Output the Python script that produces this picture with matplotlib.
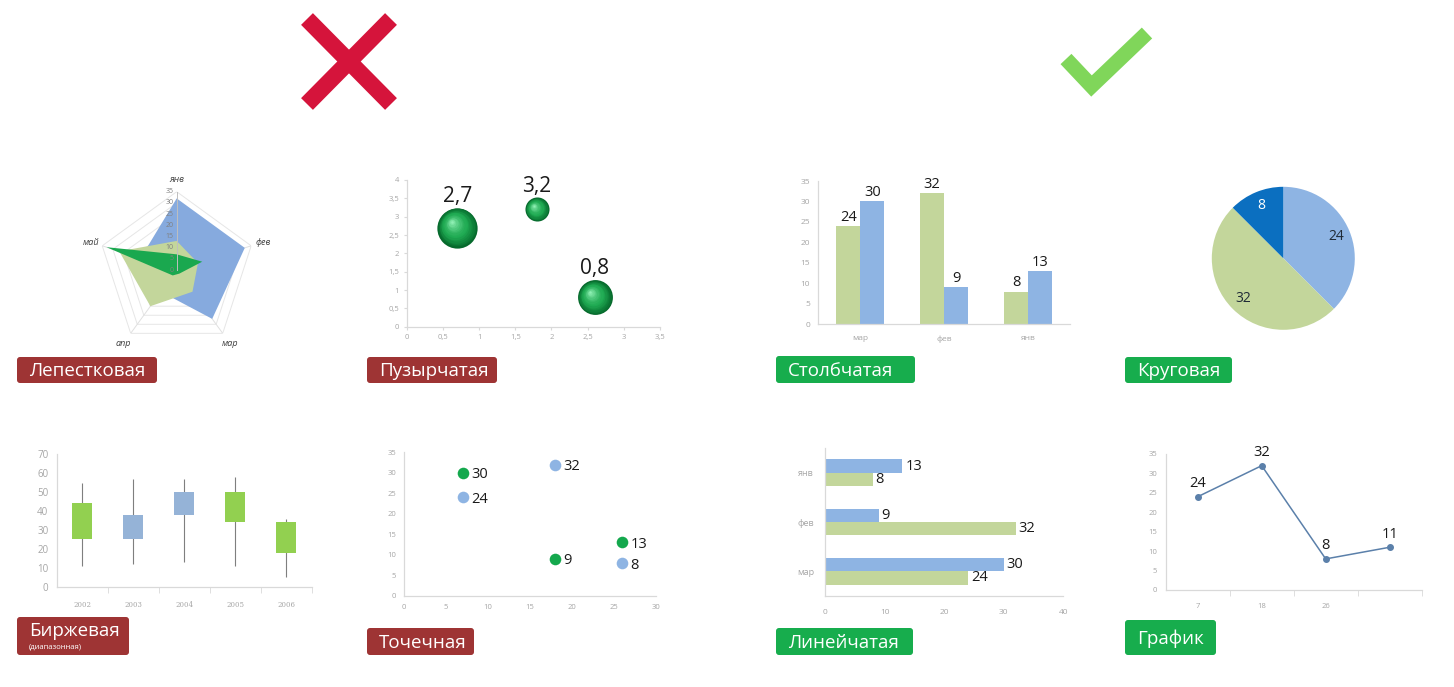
import numpy as np
import matplotlib
matplotlib.use('Agg')
import matplotlib.pyplot as plt
from matplotlib.patches import FancyBboxPatch
from matplotlib.transforms import offset_copy
from matplotlib.colors import to_rgb

plt.rcParams['font.family'] = ['Open Sans', 'DejaVu Sans']

# ---------------- data ----------------
radar_axes = ['янв', 'фев', 'мар', 'апр', 'май']
radar_ticks = [0, 5, 10, 15, 20, 25, 30, 35]
radar_blue = [32, 32, 27, 12, 17]
radar_lightgreen = [13, 10, 12, 20, 27]
radar_green = [7, 12, 2, 3, 33]

bubble_x = [0.7, 1.8, 2.6]
bubble_y = [2.7, 3.2, 0.8]
bubble_size = [2.8, 1.0, 2.1]
bubble_labels = ['2,7', '3,2', '0,8']

months = ['мар', 'фев', 'янв']
series_green = [24, 32, 8]
series_blue = [30, 9, 13]

pie_values = [24, 32, 8]

stock_years = ['2002', '2003', '2004', '2005', '2006']
stock_open = [25, 38, 50, 34, 18]
stock_close = [44, 25, 38, 50, 34]
stock_high = [55, 57, 57, 58, 36]
stock_low = [11, 12, 13, 11, 5]

scatter_x = [7, 18, 26]
scatter_green_y = [30, 9, 13]
scatter_blue_y = [24, 32, 8]

line_labels = ['7', '18', '26', '']
line_values = [24, 32, 8, 11]

badges_red = [('Лепестковая', (17, 357, 157, 383)),
              ('Пузырчатая', (367, 357, 497, 383)),
              ('Точечная', (367, 628, 474, 655))]
badges_green = [('Столбчатая', (776, 356, 915, 383)),
                ('Круговая', (1125, 357, 1232, 383)),
                ('Линейчатая', (776, 628, 913, 655)),
                ('График', (1125, 620, 1216, 655))]

# ---------------- style ----------------
W, H = 1454, 687
TICK = '#a6a6a6'
SPINE = '#d9d9d9'
LBL = '#1a1a1a'
C_BLUE = '#8eb4e3'
C_LGREEN = '#c3d69b'
C_GREEN = '#14a84d'
RED_BADGE = '#9e3434'
GREEN_BADGE = '#17ad4d'
DATA_FS = 10.5

fig = plt.figure(figsize=(W / 100, H / 100), dpi=100)
fig.patch.set_facecolor('white')

ov = fig.add_axes([0, 0, 1, 1])
ov.set_xlim(0, W)
ov.set_ylim(H, 0)
ov.axis('off')


def px_axes(x0, y0, x1, y1, **kw):
    return fig.add_axes([x0 / W, 1 - y1 / H, (x1 - x0) / W, (y1 - y0) / H], **kw)


def style_axes(ax, fs=5.5):
    for s in ['top', 'right']:
        ax.spines[s].set_visible(False)
    for s in ['left', 'bottom']:
        ax.spines[s].set_color(SPINE)
        ax.spines[s].set_linewidth(0.9)
    ax.tick_params(colors=SPINE, labelcolor=TICK, labelsize=fs, length=0, pad=6)
    ax.patch.set_alpha(0)


def comma(v):
    return ('%g' % v).replace('.', ',')


# ---------------- icons ----------------
ov.plot([307, 391], [19, 104], color='#d5143b', lw=12, solid_capstyle='butt')
ov.plot([391, 307], [19, 104], color='#d5143b', lw=12, solid_capstyle='butt')
ov.plot([1066, 1091.5, 1147], [59, 86, 33], color='#80d65a', lw=10.8,
        solid_capstyle='butt', solid_joinstyle='miter')

# ---------------- badges ----------------
def badge(text, box, color, sub=None):
    x0, y0, x1, y1 = box
    ov.add_patch(FancyBboxPatch((x0, y0), x1 - x0, y1 - y0,
                                boxstyle='round,pad=0,rounding_size=3',
                                fc=color, ec='none'))
    if sub is None:
        ov.text(x0 + 12, (y0 + y1) / 2 + 1, text, color='white', fontsize=13.5,
                va='center', ha='left')
    else:
        ov.text(x0 + 12, y0 + 14, text, color='white', fontsize=13.5,
                va='center', ha='left')
        ov.text(x0 + 12, y0 + 30, sub, color='white', fontsize=5.5,
                va='center', ha='left')


for t, b in badges_red:
    badge(t, b, RED_BADGE)
badge('Биржевая', (17, 617, 129, 655), RED_BADGE, sub='(диапазонная)')
for t, b in badges_green:
    badge(t, b, GREEN_BADGE)

# ---------------- radar ----------------
axr = px_axes(176.7 - 78.3, 270 - 78.3, 176.7 + 78.3, 270 + 78.3, projection='polar')
axr.set_theta_offset(np.pi / 2)
axr.set_theta_direction(-1)
axr.set_ylim(0, radar_ticks[-1])
axr.set_xticks([])
axr.set_yticks([])
axr.grid(False)
axr.spines['polar'].set_visible(False)
axr.patch.set_alpha(0)
theta = np.linspace(0, 2 * np.pi, len(radar_axes), endpoint=False)
closed = np.append(theta, theta[0])
for r in radar_ticks[1:]:
    axr.plot(closed, [r] * len(closed), color='#e6e6e6', lw=0.7, zorder=1)
for t in theta:
    axr.plot([t, t], [0, radar_ticks[-1]], color='#e0e0e0', lw=0.7, zorder=1)
for vals, c in [(radar_blue, '#86aade'), (radar_lightgreen, C_LGREEN), (radar_green, '#1aa84f')]:
    axr.fill(closed, np.append(vals, vals[0]), color=c, lw=0, zorder=2)
axr.plot([0, 0], [0, radar_ticks[-1]], color='#bfbfbf', lw=0.7, zorder=3)
tick_tr = offset_copy(axr.transData, fig=fig, x=-3, y=0, units='dots')
for v in radar_ticks:
    axr.text(0, v, str(v), transform=tick_tr, ha='right', va='center',
             fontsize=5, color='#808080', zorder=4)
for t, name in zip(theta, radar_axes):
    axr.text(t, 40.5, name, ha='center', va='center', fontsize=6.5,
             color='#404040', style='italic')

# ---------------- bubble ----------------
axb = px_axes(406.7, 180, 660, 326.7)
style_axes(axb)
axb.set_xlim(0, 3.5)
axb.set_ylim(0, 4)
bx_ticks = np.arange(0, 3.51, 0.5)
by_ticks = np.arange(0, 4.01, 0.5)
axb.set_xticks(bx_ticks, [comma(v) for v in bx_ticks])
axb.set_yticks(by_ticks, [comma(v) for v in by_ticks])
axb.tick_params(length=2.5, pad=3)
dark = np.array(to_rgb('#06692c'))
mid = np.array(to_rgb('#1faa52'))
light = np.array(to_rgb('#8ff0b4'))
bubble_scale = 300
for x, y, sz, lab in zip(bubble_x, bubble_y, bubble_size, bubble_labels):
    s = sz * bubble_scale
    r = np.sqrt(s) / 2
    n = 16
    for k in range(n):
        f = 1 - k / n
        u = k / (n - 1)
        col = dark + (mid - dark) * min(u * 2.5, 1) if u < 0.4 else mid + (light - mid) * ((u - 0.4) / 0.6) ** 1.5
        tr = offset_copy(axb.transData, fig=fig, x=-(1 - f) * 0.3 * r,
                         y=(1 - f) * 0.3 * r, units='points')
        axb.scatter([x], [y], s=s * f * f, color=col, transform=tr, lw=0,
                    zorder=3 + k * 0.01, clip_on=False)
    axb.annotate(lab, (x, y), xytext=(0, r + 4), textcoords='offset points',
                 ha='center', va='baseline', fontsize=15, color=LBL)

# ---------------- column ----------------
axc = px_axes(818.3, 181, 1070, 324.3)
style_axes(axc, 6)
xc = np.arange(len(months))
wc = 0.286
cg = axc.bar(xc - wc / 2, series_green, wc, color=C_LGREEN)
cb = axc.bar(xc + wc / 2, series_blue, wc, color=C_BLUE)
axc.bar_label(cg, padding=1, fontsize=DATA_FS, color=LBL)
axc.bar_label(cb, padding=1, fontsize=DATA_FS, color=LBL)
axc.set_xlim(-0.5, len(months) - 0.5)
axc.set_ylim(0, 35)
axc.set_yticks(range(0, 36, 5))
axc.set_xticks(xc, months)
axc.tick_params(axis='x', pad=8)

# ---------------- pie ----------------
axp = px_axes(1283.3 - 71.5, 258.3 - 71.5, 1283.3 + 71.5, 258.3 + 71.5)
total = sum(pie_values)
wedges, texts, autotexts = axp.pie(
    pie_values, colors=[C_BLUE, C_LGREEN, '#0b6fc0'], startangle=90,
    counterclock=False, radius=1,
    autopct=lambda p: '%d' % round(p * total / 100), pctdistance=0.8,
    textprops=dict(fontsize=10, color='#1f2a36'))
autotexts[2].set_color('white')
axp.set_xlim(-1, 1)
axp.set_ylim(-1, 1)
axp.set_aspect('equal')

# ---------------- stock ----------------
axs = px_axes(56.7, 454.3, 311.7, 586.7)
style_axes(axs, 7)
xs = np.arange(len(stock_years))
axs.vlines(xs, stock_low, stock_high, color='#7f7f7f', lw=0.8, zorder=1)
bottoms = np.minimum(stock_open, stock_close)
heights = np.abs(np.array(stock_close) - np.array(stock_open))
colors = ['#92d050' if c > o else '#95b3d7' for o, c in zip(stock_open, stock_close)]
axs.bar(xs, heights, 0.39, bottom=bottoms, color=colors, zorder=2)
axs.set_xlim(-0.5, len(stock_years) - 0.5)
axs.set_ylim(0, 70)
axs.set_yticks(range(0, 71, 10))
axs.set_xticks(xs, stock_years)
axs.set_xticks(np.arange(0.5, len(stock_years), 1), minor=True)
axs.tick_params(axis='x', labelsize=5, pad=10)
axs.tick_params(axis='x', which='minor', length=4, color=SPINE)
for t in axs.get_xticklabels():
    t.set_fontfamily('DejaVu Serif')

# ---------------- scatter ----------------
axsc = px_axes(404.3, 452.3, 655.7, 595.7)
style_axes(axsc)
axsc.scatter(scatter_x, scatter_green_y, s=70, color=C_GREEN, lw=0, zorder=3)
axsc.scatter(scatter_x, scatter_blue_y, s=70, color=C_BLUE, lw=0, zorder=3)
for x, y in zip(scatter_x + scatter_x, scatter_green_y + scatter_blue_y):
    axsc.annotate(str(y), (x, y), xytext=(6, -1.5), textcoords='offset points',
                  ha='left', va='center', fontsize=DATA_FS, color=LBL)
axsc.set_xlim(0, 30)
axsc.set_ylim(0, 35)
axsc.set_xticks(range(0, 31, 5))
axsc.set_yticks(range(0, 36, 5))

# ---------------- barh ----------------
axh = px_axes(825, 448, 1063.3, 596)
style_axes(axh, 6)
yh = np.arange(len(months))
hh = 0.27
hb = axh.barh(yh + hh / 2, series_blue, hh, color=C_BLUE)
hg = axh.barh(yh - hh / 2, series_green, hh, color=C_LGREEN)
axh.bar_label(hb, padding=2, fontsize=DATA_FS, color=LBL)
axh.bar_label(hg, padding=2, fontsize=DATA_FS, color=LBL)
axh.set_ylim(-0.5, len(months) - 0.5)
axh.set_xlim(0, 40)
axh.set_xticks(range(0, 41, 10))
axh.set_yticks(yh, months)
axh.tick_params(axis='y', labelsize=6.5, pad=8)
axh.tick_params(axis='x', pad=9)

# ---------------- line ----------------
axl = px_axes(1165.7, 454, 1421.7, 590)
style_axes(axl)
xl = np.arange(len(line_values))
axl.plot(xl, line_values, color='#5b80aa', lw=1.1, marker='o', ms=4)
for x, y in zip(xl, line_values):
    axl.annotate(str(y), (x, y), xytext=(0, 4), textcoords='offset points',
                 ha='center', va='bottom', fontsize=DATA_FS, color=LBL)
axl.set_xlim(-0.5, len(line_values) - 0.5)
axl.set_ylim(0, 35)
axl.set_yticks(range(0, 36, 5))
axl.set_xticks(xl, line_labels)
axl.set_xticks(np.arange(0.5, len(line_values), 1), minor=True)
axl.tick_params(axis='x', which='minor', length=4, color=SPINE)
axl.tick_params(axis='x', pad=9)

fig.savefig('out.png', dpi=100, facecolor='white')
